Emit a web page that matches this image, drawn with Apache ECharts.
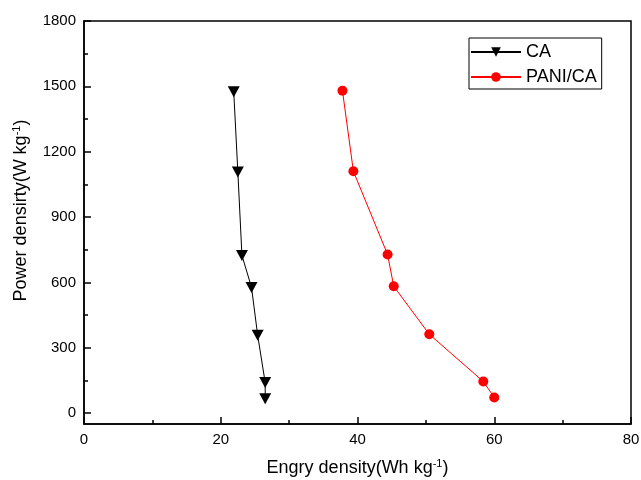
<!DOCTYPE html>
<html>
<head>
<meta charset="utf-8">
<script src="https://cdn.jsdelivr.net/npm/echarts@6/dist/echarts.min.js"></script>
<style>html,body{margin:0;padding:0;background:#fff}#c{width:641px;height:480px}</style>
</head>
<body>
<div id="c"></div>
<script>
const caEnergy = [21.9, 22.5, 23.1, 24.5, 25.4, 26.5, 26.5];
const caPower = [1475, 1107, 724, 577, 357, 140, 66];
const paniEnergy = [37.8, 39.4, 44.4, 45.3, 50.5, 58.4, 60.0];
const paniPower = [1480, 1110, 728, 582, 362, 145, 72];
const yMajor = [0, 300, 600, 900, 1200, 1500, 1800];
const yMinor = [150, 450, 750, 1050, 1350, 1650];
const seriesNames = ['CA', 'PANI/CA'];

const font = 'Liberation Sans, Arial, Helvetica, sans-serif';
const triDown = 'path://M0,0 L10,0 L5,9 Z';

const chart = echarts.init(document.getElementById('c'), null, {renderer: 'canvas'});
const supRich = {
  sup: {fontSize: 11, fontFamily: font, color: '#000', verticalAlign: 'bottom', padding: [0, 0, 10, 0]}
};
const plain = v => String(v);
chart.setOption({
  animation: false,
  backgroundColor: '#fff',
  grid: {left: 84, right: 10, top: 21, bottom: 56, show: true, borderColor: '#000', borderWidth: 1.5, backgroundColor: 'transparent', outerBoundsMode: 'none', containLabel: false},
  legend: {
    orient: 'vertical', left: 469, top: 38,
    data: seriesNames,
    borderColor: '#000', borderWidth: 1, padding: [5, 5, 3, 1],
    itemWidth: 50, itemHeight: 12, itemGap: 7,
    textStyle: {fontFamily: font, fontSize: 18, color: '#000', padding: [0, 0, 0, 0]}
  },
  xAxis: [{
    type: 'value', min: 0, max: 80, interval: 20,
    name: 'Engry density(Wh kg{sup|-1})', nameLocation: 'middle', nameGap: 34,
    nameTextStyle: {fontFamily: font, fontSize: 18, color: '#000', rich: supRich},
    axisLine: {show: true, onZero: false, lineStyle: {color: '#000', width: 1.5}},
    axisTick: {show: true, inside: true, length: 7, lineStyle: {color: '#000', width: 1.5}},
    minorTick: {show: true, splitNumber: 2, length: 4, lineStyle: {color: '#000', width: 1.5}},
    axisLabel: {fontFamily: font, fontSize: 15, color: '#000', margin: 8, formatter: plain},
    splitLine: {show: false}
  }],
  yAxis: [{
    type: 'value', min: -50, max: 1800, position: 'left',
    name: 'Power densirty(W kg{sup|-1})', nameLocation: 'middle', nameGap: 52,
    nameTextStyle: {fontFamily: font, fontSize: 18, color: '#000', rich: supRich, padding: [0, 0, 0, 24]},
    axisLine: {show: true, onZero: false, lineStyle: {color: '#000', width: 1.5}},
    axisTick: {show: true, inside: true, length: 7, customValues: yMajor, lineStyle: {color: '#000', width: 1.5}},
    axisLabel: {fontFamily: font, fontSize: 15, color: '#000', margin: 8, customValues: yMajor, formatter: plain},
    splitLine: {show: false}
  }, {
    type: 'value', min: -50, max: 1800, position: 'left', offset: 0,
    axisLine: {show: false},
    axisTick: {show: true, inside: true, length: 4, customValues: yMinor, lineStyle: {color: '#000', width: 1.5}},
    axisLabel: {show: false, customValues: yMinor},
    splitLine: {show: false}
  }],
  series: [{
    name: seriesNames[0], type: 'line', yAxisIndex: 0,
    data: caEnergy.map((x, i) => [x, caPower[i]]),
    symbol: triDown, symbolSize: [12, 11],
    lineStyle: {color: '#000', width: 1},
    itemStyle: {color: '#000'},
    color: '#000'
  }, {
    name: seriesNames[1], type: 'line', yAxisIndex: 0,
    data: paniEnergy.map((x, i) => [x, paniPower[i]]),
    symbol: 'circle', symbolSize: 10,
    lineStyle: {color: '#ff0000', width: 1},
    itemStyle: {color: '#ff0000'},
    color: '#ff0000'
  }]
});
</script>
</body>
</html>
